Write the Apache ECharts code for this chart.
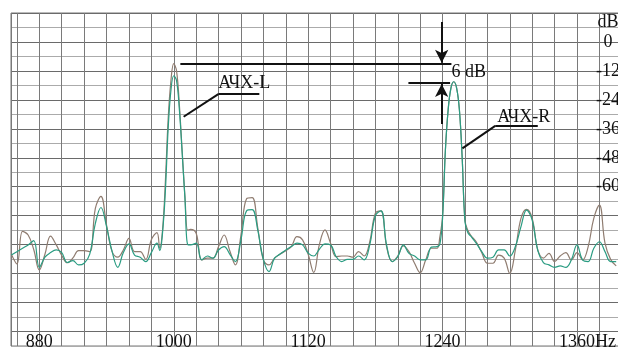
<!DOCTYPE html>
<html>
<head>
<meta charset="utf-8">
<script src="https://cdn.jsdelivr.net/npm/echarts@6/dist/echarts.min.js"></script>
<style>
  html, body { margin: 0; padding: 0; background: #fff; }
  #chart { width: 618px; height: 352px; }
</style>
</head>
<body>
<div id="chart"></div>
<script>
// frequency (Hz) of each reading, finer steps round the two peaks
const freq = [
  855, 860, 865, 870, 875, 880, 885, 890, 895, 900,
  905, 910, 915, 920, 925, 930, 935, 940, 945, 950,
  955, 960, 965, 970, 975, 980, 985, 987.5, 990, 992.5,
  995, 997.5, 1000, 1002.5, 1005, 1007.5, 1010, 1012.5, 1015, 1020,
  1025, 1030, 1035, 1040, 1045, 1050, 1055, 1060, 1065, 1070,
  1075, 1080, 1085, 1090, 1095, 1100, 1105, 1110, 1115, 1120,
  1125, 1130, 1135, 1140, 1145, 1150, 1155, 1160, 1165, 1170,
  1175, 1180, 1185, 1190, 1195, 1200, 1205, 1210, 1215, 1220,
  1225, 1230, 1235, 1237.5, 1240, 1242.5, 1245, 1247.5, 1250, 1252.5,
  1255, 1257.5, 1260, 1262.5, 1265, 1270, 1275, 1280, 1285, 1290,
  1295, 1300, 1305, 1310, 1315, 1320, 1325, 1330, 1335, 1340,
  1345, 1350, 1355, 1360, 1365, 1370, 1375, 1380, 1385, 1390,
  1395,
];

// АЧХ-L, dB
const ampL = [
  -88, -92, -78.5, -80, -86, -94.5, -88, -80.5, -84, -88.5,
  -91.5, -89.5, -86.5, -86.5, -86.9, -69, -64, -75.9, -86.9, -89.2,
  -86.2, -81.4, -86.9, -86.9, -90.1, -82, -79, -85.5, -78, -58,
  -32, -16, -9, -12, -26, -45, -64, -78, -77.7, -79.3,
  -90.3, -89.6, -89.6, -84.8, -80, -86.5, -92.4, -80, -65, -64.5,
  -77, -90.3, -92.4, -89.6, -87.9, -86.5, -84.8, -80.7, -82, -88,
  -95.5, -84, -77.9, -83.4, -89, -88.7, -88.7, -89.2, -86.9, -88.7,
  -82.8, -71, -70, -84.8, -91, -88.7, -84.5, -86.9, -91.7, -95.6,
  -90.3, -85.5, -85.5, -81, -72, -45, -28, -19, -16.5, -19,
  -28, -48, -74, -78, -80, -82.8, -87.3, -91.7, -91.7, -88.3,
  -89.6, -95.9, -86.2, -73.1, -69.4, -73.1, -86.2, -89.6, -87.6, -91,
  -88.7, -87.3, -90.3, -87.3, -90.3, -84.8, -73.1, -67.6, -83.4, -90.1,
  -92.8,
];

// АЧХ-R, dB
const ampR = [
  -88.3, -86.9, -85.5, -84.1, -82.3, -93.4, -89.2, -87.3, -86.2, -87.3,
  -91.4, -90.6, -92.4, -91.7, -87.9, -75.2, -68.6, -76.5, -86.9, -93.4,
  -87.3, -83.7, -88.3, -89.2, -91, -87.3, -83.4, -86.5, -79, -62,
  -36, -20, -14, -16, -28, -46, -65, -84, -84.1, -83.4,
  -90.3, -88.7, -89.6, -86.2, -84.8, -87.9, -91, -82, -70, -69.5,
  -78, -90.1, -95.2, -89.6, -87.9, -86.2, -84.8, -83.4, -84.1, -87.5,
  -88.7, -85.9, -83.7, -84.1, -89, -91, -90.1, -90.1, -88.7, -90.3,
  -84.1, -72, -70, -84.1, -91, -89, -84.1, -87.6, -88.7, -90.3,
  -90.3, -85, -84.8, -84, -73, -45, -28, -19, -16.5, -19,
  -28, -48, -74.5, -79, -80.4, -83.4, -86.9, -89.6, -89.2, -86.2,
  -86.2, -88.7, -84.8, -76.5, -69.7, -73.8, -86.5, -91.4, -92.4, -93.4,
  -92.8, -93.4, -90.3, -84.1, -90.3, -91, -85.5, -82.8, -86.9, -91,
  -91,
];

const xLabels = [880, 1000, 1120, 1240, 1360];
const yLabels = [0, -12, -24, -36, -48, -60];

const font = "Liberation Serif";
const ink = "#111";

const chart = echarts.init(document.getElementById("chart"), null, { renderer: "canvas" });

function seg(a, b, end) {
  const p0 = { coord: a, symbol: "none" };
  const p1 = { coord: b, symbol: end ? "arrow" : "none", symbolSize: end ? [10, 13] : 0 };
  return [p0, p1];
}

const yRange = { type: "value", position: "right", min: -126, max: 12, interval: 6 };

chart.setOption({
  backgroundColor: "#fff",
  animation: false,
  grid: {
    left: 11, right: -2, top: 13, bottom: 6,
    outerBoundsMode: "none",
    containLabel: false,
    show: true, borderColor: "#777", borderWidth: 1,
  },
  xAxis: {
    type: "value",
    min: 854.7,
    max: 1398.4,
    minInterval: 20,
    maxInterval: 20,
    splitNumber: 30,
    axisLine: { show: false },
    axisTick: { show: false },
    splitLine: { show: true, lineStyle: { color: "#7a7a7a", width: 1 } },
    axisLabel: {
      inside: true,
      margin: -5,
      verticalAlign: "bottom",
      showMinLabel: false,
      showMaxLabel: false,
      color: ink,
      fontFamily: font,
      fontSize: 18,
      formatter: (v) => {
        if (!xLabels.includes(Math.round(v * 10) / 10)) return "";
        return v === 1360 ? "{p|Hz}1360Hz" : String(v);
      },
      rich: { p: { color: "rgba(0,0,0,0)", fontFamily: font, fontSize: 18 } },
    },
  },
  yAxis: [
    {
      ...yRange,
      axisLine: { show: false },
      axisTick: { show: false },
      axisLabel: { show: false },
      splitLine: { show: true, lineStyle: { color: ["#ababab", "#6a6a6a"], width: 1 } },
    },
    {
      // labels only, kept above the grid lines
      ...yRange,
      z: 5,
      name: "dB",
      nameLocation: "end",
      nameGap: -9,
      nameTextStyle: {
        color: ink, fontFamily: font, fontSize: 18,
        align: "center", verticalAlign: "middle", padding: [0, 24, 0, 0],
      },
      axisLine: { show: false },
      axisTick: { show: false },
      splitLine: { show: false },
      axisLabel: {
        inside: true,
        margin: 12,
        align: "center",
        color: ink,
        fontFamily: font,
        fontSize: 18,
        formatter: (v) => (yLabels.includes(v) ? String(v) : ""),
      },
    },
  ],
  series: [
    {
      name: "АЧХ-L",
      type: "line",
      smooth: 0.4,
      symbol: "none",
      lineStyle: { color: "#8f7c70", width: 1.2 },
      data: freq.map((f, i) => [f, ampL[i]]),
      markLine: {
        silent: true,
        symbol: "none",
        label: { show: false },
        lineStyle: { color: ink, width: 2, type: "solid" },
        data: [
          seg([1005.9, -8.9], [1247.9, -8.9]),
          seg([1209.5, -17.1], [1246.7, -17.1]),
          seg([1239.2, 8.3], [1239.2, -8.6], true),
          seg([1239.2, -34], [1239.2, -17.4], true),
          seg([1008.8, -31], [1039.8, -21.6]),
          seg([1039.8, -21.6], [1076.4, -21.6]),
          seg([1257.7, -44.1], [1287, -34.8]),
          seg([1287, -34.8], [1325, -34.8]),
        ],
      },
    },
    {
      name: "АЧХ-R",
      type: "line",
      smooth: 0.4,
      symbol: "none",
      lineStyle: { color: "#2a9c82", width: 1.2 },
      data: freq.map((f, i) => [f, ampR[i]]),
    },
  ],
});

// text notes, placed from data coordinates
const notes = [
  { text: "АЧХ-L", at: [1039.8, -17.2] },
  { text: "АЧХ-R", at: [1288.9, -31.1] },
  { text: "6 dB", at: [1247.9, -12.4] },
];
chart.setOption({
  graphic: notes.map((n) => {
    const p = chart.convertToPixel({ gridIndex: 0 }, n.at);
    return {
      type: "text",
      x: p[0],
      y: p[1],
      z: 100,
      style: {
        text: n.text,
        fill: ink,
        font: '18px "Liberation Serif"',
        textAlign: "left",
        textVerticalAlign: "middle",
        align: "left",
        verticalAlign: "middle",
      },
    };
  }),
});
</script>
</body>
</html>
